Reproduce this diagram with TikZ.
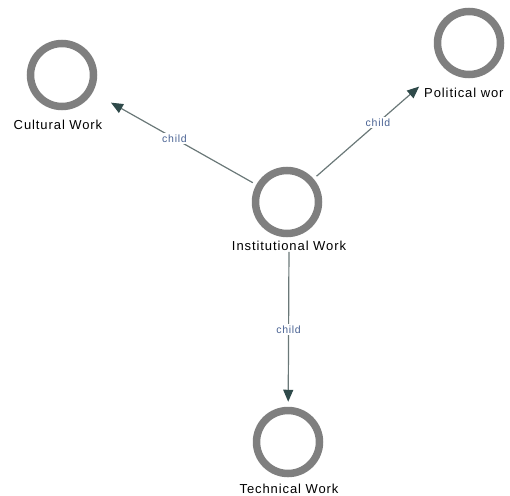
\documentclass[tikz,border=0pt]{standalone}
\usepackage{fontspec}
\setmainfont{Liberation Sans}
\newfontfamily\labfont[LetterSpace=7]{Liberation Sans}
\usetikzlibrary{arrows.meta}
\definecolor{ringgray}{HTML}{7F7F7F}
\definecolor{edgegray}{HTML}{6A7878}
\definecolor{tipgray}{HTML}{2F4A4A}
\definecolor{childblue}{HTML}{4A6394}

\begin{document}
\begin{tikzpicture}[x=1pt, y=-1pt,
    work/.style={draw=ringgray, circle, line width=7.5pt, minimum size=63pt, inner sep=0pt},
    worklabel/.style={font=\labfont\fontsize{13}{15}\selectfont, text=black, inner sep=1pt},
    childedge/.style={draw=edgegray, line width=1.2pt, -{Triangle[length=12pt,width=10pt,color=tipgray]}},
    childlabel/.style={fill=white, text=childblue, font=\labfont\fontsize{10.5}{12}\selectfont, inner sep=2pt}]
    \useasboundingbox (0,0) rectangle (510,495);

    % Nodes
    \node[work] (inst) at (287,202) {};
    \node[work] (cult) at (62,75) {};
    \node[work] (pol) at (469,43) {};
    \node[work] (tech) at (288,442) {};

    % Labels
    \node[worklabel] (instlab) at (289,246) {Institutional Work};
    \node[worklabel] (cultlab) at (58,125) {Cultural Work};
    \node[worklabel, anchor=west] (pollab) at (423,93) {Political wor};
    \node[worklabel] (techlab) at (289,489) {Technical Work};

    % Edges
    \draw[childedge, shorten <=4pt, shorten >=21pt] (inst) -- node[childlabel] {child} (cult);
    \draw[childedge, shorten <=4pt, shorten >=31pt] (inst) -- node[childlabel] {child} (pol);
    \draw[childedge, shorten >=5pt] (instlab) -- node[childlabel] {child} (tech);
\end{tikzpicture}
\end{document}
